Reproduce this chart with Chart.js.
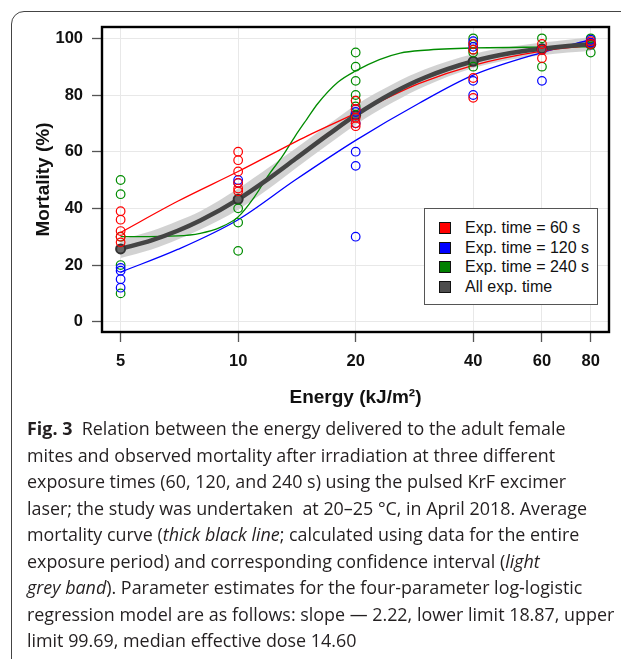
<!DOCTYPE html>
<html>
<head>
<meta charset="utf-8">
<script src="https://cdn.jsdelivr.net/npm/chart.js@4/dist/chart.umd.min.js"></script>
<style>
  html, body { margin: 0; padding: 0; background: #fff; }
  body { width: 621px; height: 659px; position: relative; overflow: hidden; }
  #frame {
    position: absolute; left: 11px; top: 11px; width: 700px; height: 700px;
    border: 1px solid #444; border-top-left-radius: 13px;
  }
  #chart-wrap { position: absolute; left: 0; top: 0; width: 621px; height: 420px; }
  #legend {
    position: absolute; left: 424px; top: 208px; width: 172px; height: 95px;
    border: 1px solid #555; background: #fff;
    font-family: "Liberation Sans", Arial, sans-serif; font-size: 16px; color: #111;
  }
  #legend .row { position: absolute; left: 14px; height: 19px; line-height: 19px; white-space: nowrap; }
  #legend .sq { display: inline-block; width: 10px; height: 10px; border: 1px solid #111; vertical-align: -1px; margin-right: 14px; }
  #caption {
    position: absolute; left: 27px; top: 415px;
    font-family: "Open Sans", "Noto Sans", sans-serif; font-size: 17.9px; line-height: 26.5px;
    color: #231f20; white-space: nowrap;
  }
  #caption b { font-weight: 700; }
</style>
</head>
<body>
<div id="frame"></div>
<div id="chart-wrap"><canvas id="chart" width="621" height="420"></canvas></div>
<div id="legend"></div>
<div id="caption">
  <div><b>Fig. 3</b>&nbsp; Relation between the energy delivered to the adult female</div>
  <div>mites and observed mortality after irradiation at three different</div>
  <div>exposure times (60, 120, and 240 s) using the pulsed KrF excimer</div>
  <div>laser; the study was undertaken &nbsp;at 20–25 °C, in April 2018. Average</div>
  <div>mortality curve (<i>thick black line</i>; calculated using data for the entire</div>
  <div>exposure period) and corresponding confidence interval (<i>light</i></div>
  <div><i>grey band</i>). Parameter estimates for the four-parameter log-logistic</div>
  <div>regression model are as follows: slope — 2.22, lower limit 18.87, upper</div>
  <div>limit 99.69, median effective dose 14.60</div>
</div>
<script>
// energies tested and axis ticks
const energies = [5, 10, 20, 40, 60, 80];
const xTicks = [5, 10, 20, 40, 60, 80];
const yTicks = [0, 20, 40, 60, 80, 100];

// observed mortality per energy (one inner list per energy)
const obs60s = [[39, 36, 32, 30, 28], [60, 57, 53, 49, 47, 46], [78, 75, 72, 70, 69], [98, 96, 86, 79], [98, 96, 93], [99, 98]];
const obs120s = [[19, 18, 15, 12], [50, 49], [75, 74, 70, 60, 55, 30], [99, 97, 85, 80], [96, 85], [98.5, 99.5]];
const obs240s = [[50, 45, 30, 20, 10], [40, 35, 25], [95, 90, 85, 80, 78, 76], [100, 98, 96, 95, 90], [100, 96, 90], [100, 95]];
const meanAll = [25.7, 43.2, 72.9, 91.9, 96.3, 97.9];

// fitted curves
const redCurveX = [5, 7, 10, 15, 20, 29, 40, 60, 80];
const redCurveY = [31.5, 42.5, 53, 65.5, 73.5, 84, 90.5, 95.5, 97.5];
const blueCurveX = [5, 7, 10, 14, 20, 29, 40, 60, 80];
const blueCurveY = [17.5, 25.5, 36, 50, 64, 77, 87, 95, 99.5];
const greenCurveX = [5, 7, 8, 9, 10, 11, 12, 13, 14, 15, 16, 18, 20, 23, 26, 30, 40, 60, 80];
const greenCurveY = [30, 30.3, 31.2, 33.3, 37, 44, 52, 58.5, 65.5, 71.5, 77, 84.5, 88.5, 92.5, 94.8, 95.8, 96.6, 96.9, 97];
const allCurveX = [5, 6, 7, 8, 10, 12, 14, 17, 20, 25, 30, 40, 50, 60, 70, 80];
const allCurveY = [25.7, 28.7, 32.1, 35.7, 43.2, 50.6, 57.4, 66, 72.9, 80.9, 86.1, 91.9, 94.8, 96.3, 97.3, 97.9];
const bandLow = [22.5, 25.5, 29, 32.5, 39.5, 47, 54, 62.5, 69.5, 77.5, 83, 89.5, 92.5, 94, 95, 95.5];
const bandHigh = [29, 32, 35.5, 39, 47, 54.5, 61, 69.5, 76.5, 84, 89, 94.5, 97, 98.5, 99.5, 100.5];

const RED = 'rgb(255,0,0)';
const BLUE = 'rgb(0,0,255)';
const GREEN = 'rgb(0,140,0)';
const DARK = '#444444';

function pairs(xs, ys) {
  return xs.map((x, i) => ({ x, y: ys[i] }));
}

function scatterPoints(groups) {
  const pts = [];
  groups.forEach((vals, i) => vals.forEach(v => pts.push({ x: energies[i], y: v })));
  return pts;
}

function curve(xs, ys, color, width, order) {
  return {
    type: 'line', data: pairs(xs, ys), borderColor: color, borderWidth: width,
    pointRadius: 0, fill: false, cubicInterpolationMode: 'monotone', order
  };
}

function points(groups, color) {
  return {
    type: 'scatter', data: scatterPoints(groups), borderColor: color, borderWidth: 1.2,
    backgroundColor: 'rgba(0,0,0,0)', pointRadius: 4.3, order: 1
  };
}

// black border around the plot area
const frameBox = {
  id: 'frameBox',
  afterDraw(chart) {
    const { ctx, chartArea: a } = chart;
    ctx.save();
    ctx.strokeStyle = '#000';
    ctx.lineWidth = 2.4;
    ctx.strokeRect(a.left, a.top, a.right - a.left, a.bottom - a.top);
    ctx.restore();
  }
};

const tickFont = { family: '"Liberation Sans", Arial, sans-serif', size: 16.5, weight: 'bold' };
const titleFont = { family: '"Liberation Sans", Arial, sans-serif', size: 19, weight: 'bold' };

new Chart(document.getElementById('chart'), {
  type: 'line',
  data: {
    datasets: [
      { type: 'line', data: pairs(allCurveX, bandLow), borderWidth: 0, pointRadius: 0, fill: false, cubicInterpolationMode: 'monotone', order: 20 },
      { type: 'line', data: pairs(allCurveX, bandHigh), borderWidth: 0, pointRadius: 0, fill: '-1', backgroundColor: 'rgba(205,205,205,0.9)', cubicInterpolationMode: 'monotone', order: 19 },
      curve(redCurveX, redCurveY, RED, 1.3, 6),
      curve(blueCurveX, blueCurveY, BLUE, 1.3, 6),
      curve(greenCurveX, greenCurveY, GREEN, 1.3, 6),
      curve(allCurveX, allCurveY, DARK, 4.5, 4),
      points(obs60s, RED),
      points(obs120s, BLUE),
      points(obs240s, GREEN),
      {
        type: 'scatter', data: energies.map((e, i) => ({ x: e, y: meanAll[i] })),
        borderColor: '#333', borderWidth: 2, backgroundColor: '#666', pointRadius: 4.5, order: 3
      }
    ]
  },
  options: {
    responsive: false,
    devicePixelRatio: 1,
    animation: false,
    layout: { padding: { top: 27, right: 12, left: 0, bottom: 0 } },
    plugins: { legend: { display: false }, tooltip: { enabled: false } },
    scales: {
      x: {
        type: 'logarithmic',
        min: 4.48, max: 89.1,
        afterFit: s => { s.height = 88; },
        afterBuildTicks: s => { s.ticks = xTicks.map(v => ({ value: v })); },
        ticks: { font: tickFont, color: '#111', padding: 10, maxRotation: 0, autoSkip: false, callback: v => String(v) },
        grid: { color: '#e8e8e8', lineWidth: 1, tickLength: 10, tickColor: '#555', tickWidth: 1.3 },
        border: { display: false },
        title: { display: true, text: 'Energy (kJ/m²)', font: titleFont, color: '#111', padding: { top: 0, bottom: 11 } }
      },
      y: {
        type: 'linear',
        min: -3.63, max: 104.0,
        afterFit: s => { s.width = 102; },
        afterBuildTicks: s => { s.ticks = yTicks.map(v => ({ value: v })); },
        ticks: { font: tickFont, color: '#111', padding: 9, callback: v => String(v) },
        grid: { color: '#e8e8e8', lineWidth: 1, tickLength: 10, tickColor: '#555', tickWidth: 1.3 },
        border: { display: false },
        title: { display: true, text: 'Mortality (%)', font: titleFont, color: '#111', padding: { top: 32, bottom: 0 } }
      }
    }
  },
  plugins: [frameBox]
});

// legend
const legendItems = [
  ['Exp. time = 60 s', RED],
  ['Exp. time = 120 s', BLUE],
  ['Exp. time = 240 s', '#008000'],
  ['All exp. time', '#4d4d4d']
];
const legend = document.getElementById('legend');
legendItems.forEach(([label, color], i) => {
  const row = document.createElement('div');
  row.className = 'row';
  row.style.top = (9 + i * 19.5) + 'px';
  row.innerHTML = `<span class="sq" style="background:${color}"></span>${label}`;
  legend.appendChild(row);
});
</script>
</body>
</html>
